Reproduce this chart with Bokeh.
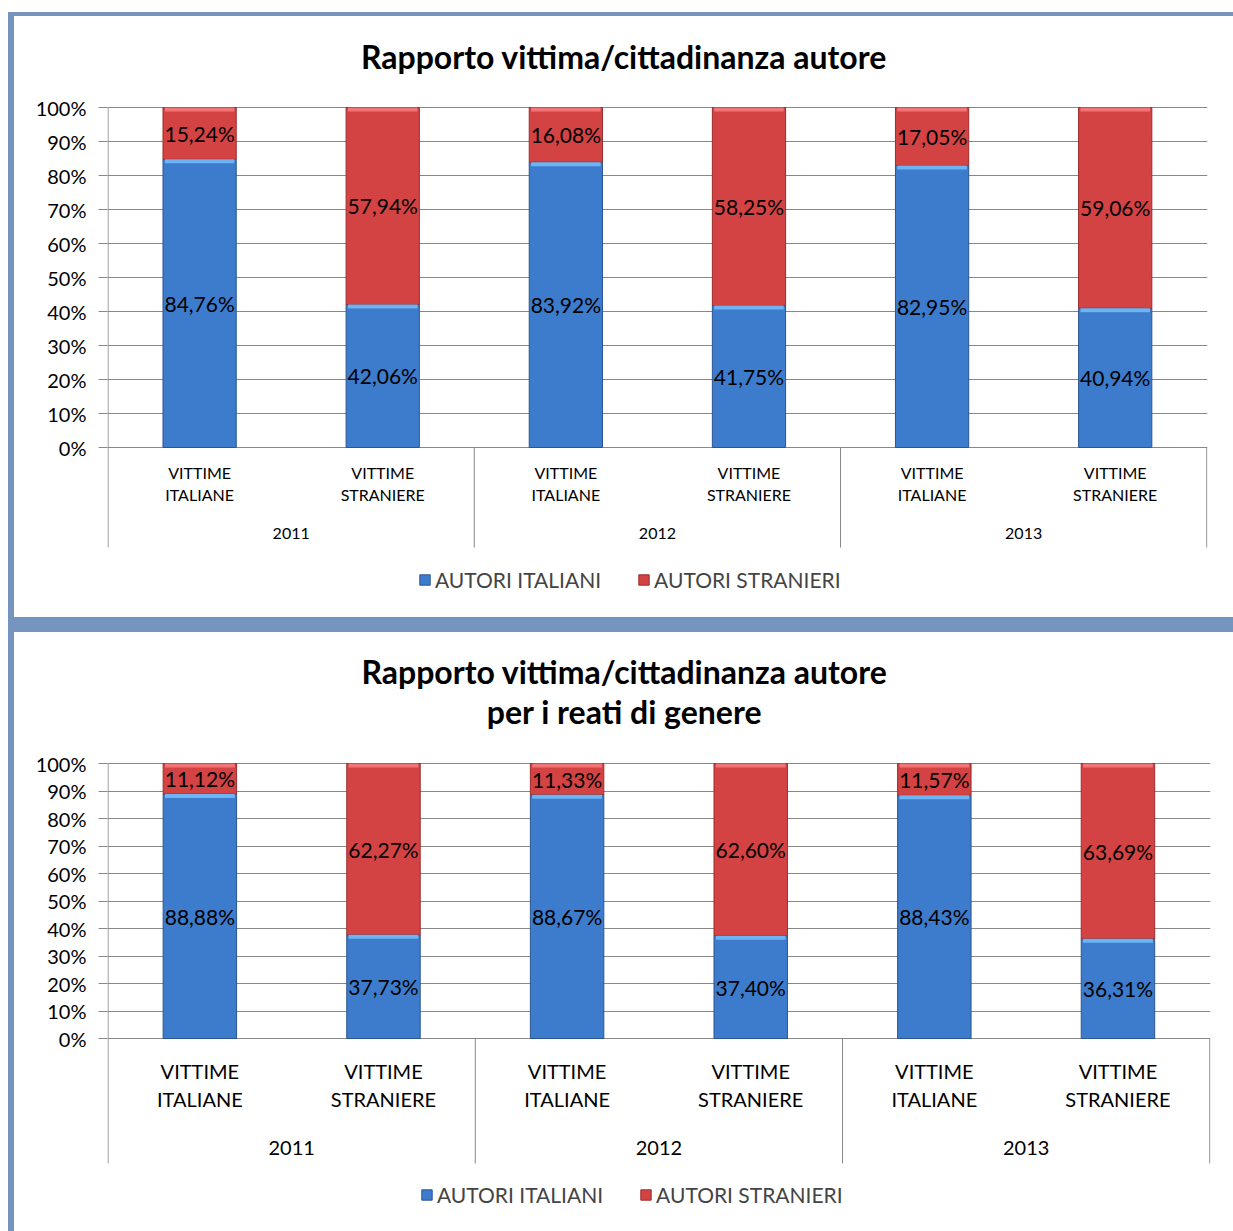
from bokeh.plotting import figure
from bokeh.models import (Range1d, FixedTicker, NumeralTickFormatter, Legend, LegendItem)
from bokeh.layouts import column
from bokeh.embed import file_html
from bokeh.resources import INLINE
from bokeh.core.properties import value

# ---------------- data ----------------
years = ["2011", "2012", "2013"]
cat_line1 = ["VITTIME", "VITTIME"]
cat_line2 = ["ITALIANE", "STRANIERE"]
series = ["AUTORI ITALIANI", "AUTORI STRANIERI"]
y_ticks = [0.0, 0.1, 0.2, 0.3, 0.4, 0.5, 0.6, 0.7, 0.8, 0.9, 1.0]

title_1 = ["Rapporto vittima/cittadinanza autore"]
title_2 = ["Rapporto vittima/cittadinanza autore", "per i reati di genere"]

# chart 1: Rapporto vittima/cittadinanza autore
ita_1 = [84.76, 42.06, 83.92, 41.75, 82.95, 40.94]
str_1 = [15.24, 57.94, 16.08, 58.25, 17.05, 59.06]
# chart 2: ... per i reati di genere
ita_2 = [88.88, 37.73, 88.67, 37.40, 88.43, 36.31]
str_2 = [11.12, 62.27, 11.33, 62.60, 11.57, 63.69]

FONT = "Lato"
FONT_V = value(FONT)
GRID = "#888888"
BLUE = "#3d7bcc"
BLUE_HL = "#6cb4f4"
BLUE_LINE = "#2b5590"
RED = "#d44343"
RED_HL = "#f27474"
RED_LINE = "#9c2c2c"
FRAME = "#7594be"

X0, X1 = -0.003, 6.004


def fmt(v):
    return ("%.2f" % v).replace(".", ",") + "%"


def make_chart(titles, ita, stra, fw, H, T, px_unit, sep_depth, right,
               cat_y1, cat_y2, year_y, cat_size, year_size, title_ys, title_cx, legend_loc):
    n = len(ita)
    yend = 1.0 + T / px_unit
    ymin = -(H - T - px_unit) / px_unit
    ysep = -sep_depth / px_unit
    xs = [i + 0.5 for i in range(n)]
    ita_f = [v / 100 for v in ita]
    str_f = [v / 100 for v in stra]
    p = figure(frame_width=fw, frame_height=H, x_range=Range1d(X0, X1),
               y_range=Range1d(ymin, yend), title=None,
               output_backend="svg", toolbar_location=None, x_axis_type=None,
               min_border_left=93, min_border_right=right, min_border_top=0,
               min_border_bottom=0, styles={"background-color": "white"})
    p.outline_line_color = None
    p.background_fill_color = None
    p.border_fill_color = "white"
    p.xgrid.visible = False
    p.ygrid.ticker = FixedTicker(ticks=y_ticks)
    p.ygrid.grid_line_color = GRID
    p.yaxis.ticker = FixedTicker(ticks=y_ticks)
    p.yaxis.formatter = NumeralTickFormatter(format="0%")
    p.yaxis.major_tick_out = 9
    p.yaxis.major_tick_in = 0
    p.yaxis.minor_tick_line_color = None
    p.yaxis.axis_line_color = None
    p.yaxis.major_tick_line_color = GRID
    p.yaxis.major_label_text_font = FONT
    p.yaxis.major_label_text_font_size = "20px"
    p.yaxis.major_label_text_color = "black"
    p.yaxis.major_label_standoff = 12

    # axis line and category separators (down to the bottom of the category labels)
    p.segment(x0=[0, 2, 4, 6], y0=[1.0, 0, 0, 0], x1=[0, 2, 4, 6], y1=[ysep] * 4,
              line_color=GRID, line_width=1)

    tops = [a + b for a, b in zip(ita_f, str_f)]
    rb = p.vbar(x=xs, bottom=0, top=ita_f, width=0.4, fill_color=BLUE, line_color=BLUE_LINE, line_width=1)
    rr = p.vbar(x=xs, bottom=ita_f, top=tops, width=0.4, fill_color=RED, line_color=RED_LINE, line_width=1)
    hl = 4.0 / px_unit
    p.vbar(x=xs, bottom=[v - hl for v in ita_f], top=ita_f, width=0.38, fill_color=BLUE_HL, line_color=None)
    p.vbar(x=xs, bottom=[v - hl for v in tops], top=tops, width=0.38, fill_color=RED_HL, line_color=None)

    # data labels (centered in segments)
    p.text(x=xs, y=[v / 2 for v in ita_f], text=[fmt(v) for v in ita], text_align="center",
           text_baseline="middle", text_font=FONT_V, text_font_size="21px", text_color="black")
    p.text(x=xs, y=[a + b / 2 for a, b in zip(ita_f, str_f)], text=[fmt(v) for v in stra],
           text_align="center", text_baseline="middle", text_font=FONT_V, text_font_size="21px",
           text_color="black")

    # category labels
    l1 = [cat_line1[i % 2] for i in range(n)]
    l2 = [cat_line2[i % 2] for i in range(n)]
    p.text(x=xs, y=[cat_y1 / px_unit] * n, text=l1, text_align="center", text_baseline="middle",
           text_font=FONT_V, text_font_size=cat_size, text_color="black")
    p.text(x=xs, y=[cat_y2 / px_unit] * n, text=l2, text_align="center", text_baseline="middle",
           text_font=FONT_V, text_font_size=cat_size, text_color="black")
    p.text(x=[1, 3, 5], y=[year_y / px_unit] * 3, text=years, text_align="center",
           text_baseline="middle", text_font=FONT_V, text_font_size=year_size, text_color="black")

    # chart title (above the 100% line)
    tx = X0 + title_cx / fw * (X1 - X0)
    p.text(x=[tx] * len(titles), y=[1.0 + d / px_unit for d in title_ys], text=titles,
           text_align="center", text_baseline="middle", text_font=FONT_V,
           text_font_size="32px", text_font_style="bold", text_color="black")

    legend = Legend(items=[LegendItem(label=series[0], renderers=[rb]),
                           LegendItem(label=series[1], renderers=[rr])],
                    orientation="horizontal", location=legend_loc, glyph_width=13, glyph_height=13,
                    label_text_font=FONT, label_text_font_size="21px", spacing=36,
                    border_line_color=None, background_fill_alpha=0, label_standoff=4,
                    margin=0, padding=0)
    p.add_layout(legend)
    return p


# top chart: figure at page (14,16) size 1219x601; frame x 107..1207; 100% at y=107, 0% at y=447
p1 = make_chart(title_1, ita_1, str_1, 1100, 601, 91, 340.0, 100.0, 26,
                -25.0, -47.0, -86.0, "16px", "16px", [51.0], 516.5, (311, 25))
# bottom chart: figure at page (14,632) size 1219x599; frame x 107..1210; 100% at y=763, 0% at y=1038
p2 = make_chart(title_2, ita_2, str_2, 1103, 599, 131, 275.0, 125.0, 23,
                -32.0, -60.0, -109.0, "20px", "20px", [92.0, 52.0], 517.0, (313, 24))

layout = column(p1, p2, spacing=15,
                styles={"margin-left": "8px", "margin-top": "12px", "padding-left": "6px",
                        "padding-top": "4px", "background-color": FRAME})
open("out.html", "w").write(file_html(layout, INLINE))
